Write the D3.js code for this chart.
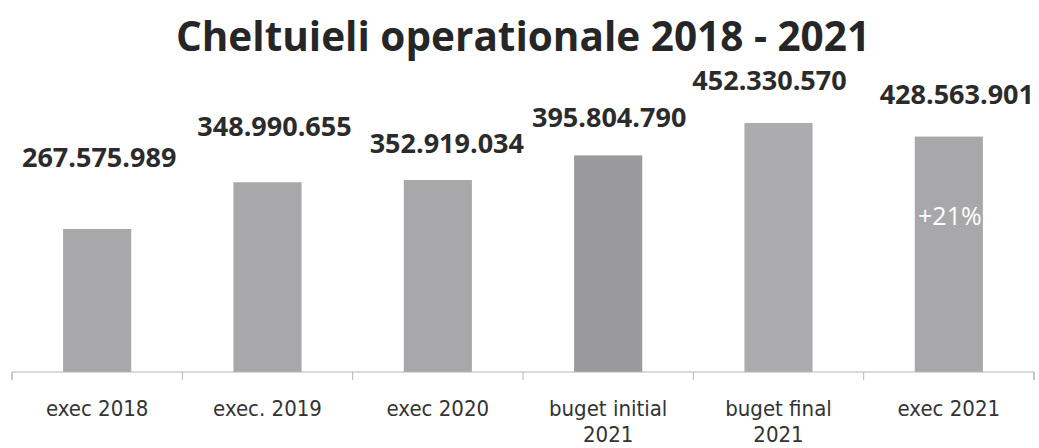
<!DOCTYPE html>
<html>
<head>
<meta charset="utf-8">
<script src="https://cdn.jsdelivr.net/npm/d3@7/dist/d3.min.js"></script>
<style>
  html, body { margin: 0; padding: 0; background: #ffffff; }
  svg { display: block; }
</style>
</head>
<body>
<script>
// ---- data ----
const categories = ["exec 2018", "exec. 2019", "exec 2020", "buget initial 2021", "buget final 2021", "exec 2021"];
const categoryLines = [["exec 2018"], ["exec. 2019"], ["exec 2020"], ["buget initial", "2021"], ["buget final", "2021"], ["exec 2021"]];
const values = [267575989, 348990655, 352919034, 395804790, 452330570, 428563901];
const valueLabels = ["267.575.989", "348.990.655", "352.919.034", "395.804.790", "452.330.570", "428.563.901"];
const title = "Cheltuieli operationale 2018 - 2021";
const annotation = "+21%";

// ---- layout / style (kept separate from data) ----
const W = 1039, H = 448;
const axisY = 372;
const barColors = ["#a8a8aa", "#a8a8aa", "#a8a8aa", "#9a9a9c", "#acacae", "#a8a8aa"];
const labelLift = [62, 46, 27, 28, 33, 33];   // px above bar top for each value label
const labelShift = [2, 7, 9, 1, -9, 8];       // px horizontal nudge for each value label

const svg = d3.select("body").append("svg").attr("width", W).attr("height", H);

const x = d3.scaleBand().domain(categories).range([12, 1034]).paddingInner(0.6).paddingOuter(0.3);
const y = d3.scaleLinear().domain([0, 500000000]).range([382.5, 95.6]);

// title
svg.append("text")
  .attr("x", 523).attr("y", 51)
  .attr("text-anchor", "middle")
  .attr("font-family", "'Open Sans', sans-serif")
  .attr("font-weight", 700)
  .attr("font-size", 40.5)
  .attr("fill", "#262626")
  .text(title);

// bars
svg.selectAll("rect.bar").data(values).join("rect")
  .attr("class", "bar")
  .attr("x", (d, i) => x(categories[i]))
  .attr("width", x.bandwidth())
  .attr("y", d => y(d))
  .attr("height", d => axisY - y(d))
  .attr("fill", (d, i) => barColors[i]);

// axis
const axis = d3.axisBottom(x).tickSize(8).tickFormat("");
const gAxis = svg.append("g").attr("transform", `translate(0,${axisY})`).call(axis);
gAxis.select(".domain").attr("stroke", "#b5b5b5").attr("d", "M12,8V0H1034V8");
gAxis.selectAll(".tick").remove();
// boundary ticks between categories
const bounds = d3.range(categories.length + 1).map(i => 12 + i * x.step());
gAxis.selectAll("line.bound").data(bounds).join("line")
  .attr("class", "bound")
  .attr("x1", d => d).attr("x2", d => d)
  .attr("y1", 0).attr("y2", 8)
  .attr("stroke", "#b5b5b5");

// category labels
const catG = svg.selectAll("g.cat").data(categoryLines).join("g")
  .attr("class", "cat")
  .attr("transform", (d, i) => `translate(${x(categories[i]) + x.bandwidth() / 2},0)`);
catG.each(function(lines) {
  d3.select(this).selectAll("text").data(lines).join("text")
    .attr("x", 0)
    .attr("y", (d, j) => 416 + j * 26)
    .attr("text-anchor", "middle")
    .attr("font-family", "'DejaVu Sans Condensed', 'DejaVu Sans', sans-serif")
    .attr("font-stretch", "condensed")
    .attr("font-size", 22)
    .attr("fill", "#333333")
    .text(d => d);
});

// value labels
svg.selectAll("text.val").data(values).join("text")
  .attr("class", "val")
  .attr("x", (d, i) => x(categories[i]) + x.bandwidth() / 2 + labelShift[i])
  .attr("y", (d, i) => y(d) - labelLift[i])
  .attr("text-anchor", "middle")
  .attr("font-family", "'Open Sans', sans-serif")
  .attr("font-weight", 700)
  .attr("font-size", 27)
  .attr("fill", "#2b2b2b")
  .text((d, i) => valueLabels[i]);

// annotation inside last bar
svg.append("text")
  .attr("x", x(categories[5]) + x.bandwidth() / 2 + 1)
  .attr("y", 225)
  .attr("text-anchor", "middle")
  .attr("font-family", "'Open Sans', sans-serif")
  .attr("font-size", 25)
  .attr("fill", "#ffffff")
  .text(annotation);
</script>
</body>
</html>
